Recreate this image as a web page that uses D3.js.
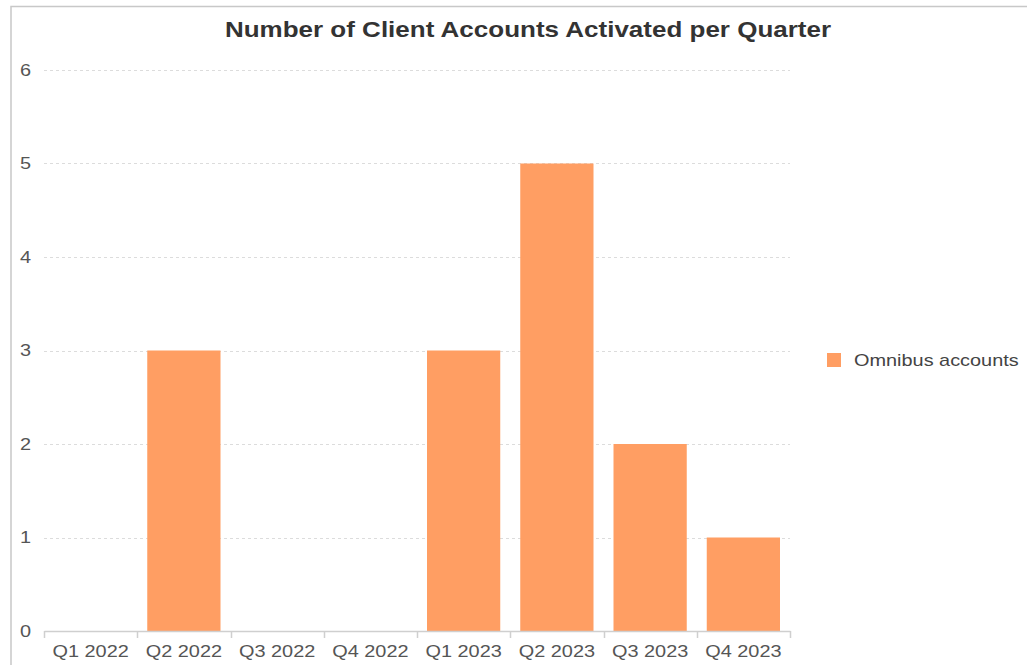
<!DOCTYPE html>
<html>
<head>
<meta charset="utf-8">
<script src="https://cdn.jsdelivr.net/npm/d3@7"></script>
<style>
  body { margin: 0; background: #fff; }
  text { font-family: "Liberation Sans", Arial, sans-serif; }
</style>
</head>
<body>
<div id="chart"></div>
<script>
const quarters = ['Q1 2022', 'Q2 2022', 'Q3 2022', 'Q4 2022', 'Q1 2023', 'Q2 2023', 'Q3 2023', 'Q4 2023']
const omnibus = [0, 3, 0, 0, 3, 5, 2, 1]
const yTicks = [0, 1, 2, 3, 4, 5, 6]
const seriesName = 'Omnibus accounts'
const title = 'Number of Client Accounts Activated per Quarter'

const width = 1029, height = 665
const margin = {top: 70, right: 239, bottom: 34, left: 44}
const stretch = 1.17 // text in the reference is a bit wider than the font

const svg = d3.select('#chart')
.append('svg')
.attr('width', width)
.attr('height', height)

// frame lines top and left
svg.append('path')
.attr('d', `M11,${height} L11,6.5 L1027,6.5`)
.attr('fill', 'none')
.attr('stroke', '#c8c8c8')
.attr('stroke-width', 1.5)

let x = d3.scaleBand()
.domain(quarters)
.range([margin.left, width - margin.right])

let y = d3.scaleLinear()
.domain([0, 6])
.range([height - margin.bottom, margin.top])

// grid
svg.append('g')
.selectAll('line')
.data(yTicks.filter(d => d > 0))
.enter()
.append('line')
.attr('x1', margin.left)
.attr('x2', width - margin.right)
.attr('y1', d => Math.round(y(d)) + 0.5)
.attr('y2', d => Math.round(y(d)) + 0.5)
.attr('stroke', '#dcdcdc')
.attr('stroke-dasharray', '3,3')

// y labels
svg.append('g')
.selectAll('text')
.data(yTicks)
.enter()
.append('text')
.attr('transform', d => `translate(31,${y(d)}) scale(${stretch},1)`)
.attr('dy', '0.35em')
.attr('text-anchor', 'end')
.attr('font-size', 17)
.attr('fill', '#555')
.text(d => d)

// bars
const pad = 10
svg.append('g')
.selectAll('rect')
.data(omnibus)
.enter()
.append('rect')
.attr('x', (d, i) => x(quarters[i]) + pad)
.attr('width', x.bandwidth() - pad * 2)
.attr('y', d => y(d))
.attr('height', d => y(0) - y(d))
.attr('fill', '#ff9e63')

// x axis
const xAxis = svg.append('g')
.attr('transform', `translate(0,${y(0)})`)
.call(d3.axisBottom(x).tickSize(0).tickPadding(14))

xAxis.select('.domain').attr('stroke', '#cfcfcf').attr('stroke-width', 1.5)
xAxis.selectAll('.tick text')
.attr('font-size', 17)
.attr('font-family', '"Liberation Sans", Arial, sans-serif')
.attr('fill', '#555')
.attr('transform', `scale(${stretch},1)`)
.attr('x', 0)
.each(function() {
	// keep the scaled label centred on its tick
	let t = d3.select(this)
	t.attr('transform', `scale(${stretch},1)`)
})

svg.append('g')
.selectAll('line')
.data(d3.range(quarters.length + 1))
.enter()
.append('line')
.attr('x1', i => Math.round(margin.left + i * x.step()) + 0.5)
.attr('x2', i => Math.round(margin.left + i * x.step()) + 0.5)
.attr('y1', y(0))
.attr('y2', y(0) + 7)
.attr('stroke', '#cfcfcf')
.attr('stroke-width', 1.5)

// title
svg.append('text')
.attr('transform', `translate(528,37) scale(${stretch * 1.01},1)`)
.attr('text-anchor', 'middle')
.attr('font-size', 22)
.attr('font-weight', 'bold')
.attr('fill', '#333')
.text(title)

// legend
const lg = svg.append('g').attr('transform', 'translate(827,353)')
lg.append('rect')
.attr('width', 14)
.attr('height', 14)
.attr('fill', '#ff9e63')
lg.append('text')
.attr('transform', `translate(27,7) scale(${stretch},1)`)
.attr('dy', '0.35em')
.attr('font-size', 17)
.attr('fill', '#444')
.text(seriesName)
</script>
</body>
</html>
